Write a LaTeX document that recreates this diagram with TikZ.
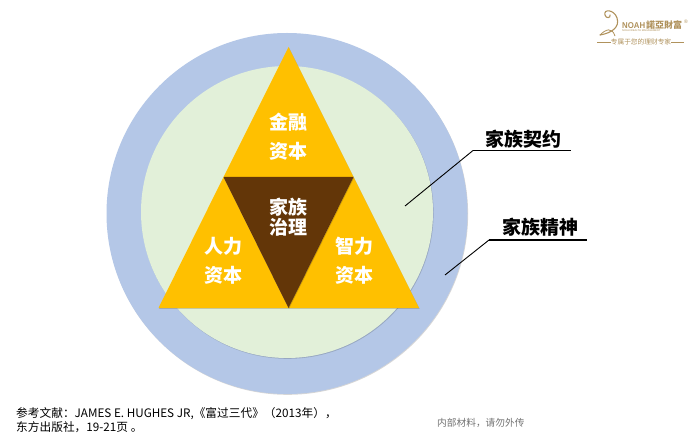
\documentclass[tikz,border=0pt]{standalone}
\usepackage{fontspec}
\setmainfont{Liberation Sans}
\newfontfamily\cjk{Noto Sans CJK SC}
\usetikzlibrary{arrows.meta,positioning,calc,shapes.geometric,shadows}
\definecolor{ringblue}{RGB}{180,199,231}
\definecolor{innergreen}{RGB}{226,240,217}
\definecolor{capgold}{RGB}{255,192,0}
\definecolor{corebrown}{RGB}{99,54,8}
\definecolor{logogold}{RGB}{176,146,92}
\begin{document}
\begin{tikzpicture}[
    x=1pt,y=-1pt,
    softshade/.style={drop shadow={shadow xshift=0.6pt,shadow yshift=-0.8pt,opacity=0.16,fill=black}},
    disc/.style={circle,inner sep=0pt,softshade},
    tri/.style={fill=capgold,softshade},
    capital/.style={align=center,font=\cjk\fontsize{19}{29}\selectfont\bfseries,text=white},
    caption/.style={font=\cjk\fontsize{19}{22}\selectfont\bfseries,text=black,inner sep=0pt},
    slant/.style={draw=black,line width=0.9pt},
    rest/.style={draw=black,line width=1.7pt},
    >=Latex]
    \useasboundingbox (0,0) rectangle (700,435);
    \fill[white] (0,0) rectangle (700,435);
    \node[disc,fill=ringblue,minimum size=361pt] (outer) at (287,213.5) {};
    \node[disc,fill=innergreen,minimum size=292pt] (inner) at (287,212) {};
    % Three gold triangles and the inverted core
    \coordinate (apex) at (288.5,47);
    \coordinate (midl) at (223.5,177);
    \coordinate (midr) at (353.5,177);
    \coordinate (botl) at (158.5,308);
    \coordinate (botm) at (288.5,308);
    \coordinate (botr) at (419,308);
    \fill[tri] (apex) -- (midr) -- (midl) -- cycle;
    \fill[tri] (midl) -- (botm) -- (botl) -- cycle;
    \fill[tri] (midr) -- (botr) -- (botm) -- cycle;
    \fill[corebrown,softshade] (midl) -- (midr) -- (botm) -- cycle;
    \node[capital] (fin) at (288.5,137) {金融\\资本};
    \node[capital] (hum) at (223.5,260.5) {人力\\资本};
    \node[capital] (intl) at (354,260.5) {智力\\资本};
    \node[capital,font=\cjk\fontsize{19}{20}\selectfont\bfseries] (gov) at (288.5,217) {家族\\治理};
    % Leaders
    \coordinate (kneea) at (473,150.5);
    \coordinate (enda) at (571,150.5);
    \coordinate (tipa) at (405,206);
    \coordinate (kneeb) at (489,240);
    \coordinate (endb) at (587,240);
    \coordinate (tipb) at (445,275);
    \draw[slant] (tipa) -- (kneea);
    \draw[rest] (kneea) -- (enda);
    \draw[slant] (tipb) -- (kneeb);
    \draw[rest] (kneeb) -- (endb);
    \node[caption] (contract) at (523,139) {家族契约};
    \node[caption] (spirit) at (540,227) {家族精神};
    % Footer
    \node[anchor=west,align=left,inner sep=0pt,font=\cjk\fontsize{11.7}{14}\selectfont] (refs) at (16,420)
      {参考文献：JAMES E. HUGHES JR,《富过三代》（2013年），\\东方出版社，19-21页 。};
    \node[anchor=west,inner sep=0pt,font=\cjk\fontsize{9.7}{11}\selectfont,text=black!55] (notice) at (437,423) {内部材料，请勿外传};
    % Logo
    \draw[logogold,line width=1.1pt,line cap=round] (600,35) .. controls (612,33) and (620,27) .. (617,18) .. controls (614,9) and (603,9) .. (605,15) .. controls (606,19) and (611,18) .. (610,15);
    \draw[logogold,line width=0.8pt] (600,35) .. controls (606,29) and (612,27) .. (615,36);
    \node[anchor=west,font=\fontsize{8.5}{9}\selectfont\bfseries,text=logogold,inner sep=0pt] (brand) at (622,26) {\scalebox{.92}[1]{NOAH}};
    \node[anchor=west,font=\cjk\fontsize{9}{9}\selectfont\bfseries,text=logogold,inner sep=0pt] (brandcn) at (646,25) {諾亞財富};
    \node[font=\fontsize{5}{5}\selectfont,text=logogold,inner sep=0pt] (reg) at (686,22) {®};
    \node[anchor=west,font=\fontsize{2.6}{3}\selectfont,text=logogold,inner sep=0pt] (sub) at (622,31) {NOAH WEALTH MANAGEMENT};
    \node[font=\cjk\fontsize{6.7}{7}\selectfont,text=logogold,inner sep=0pt] (slogan) at (641,42) {专属于您的理财专家};
    \coordinate (rulea) at (597,42);
    \coordinate (ruled) at (684,42);
    \draw[logogold,line width=0.4pt] (rulea) -- (slogan);
    \draw[logogold,line width=0.4pt] (slogan) -- (ruled);
  \end{tikzpicture}
\end{document}
